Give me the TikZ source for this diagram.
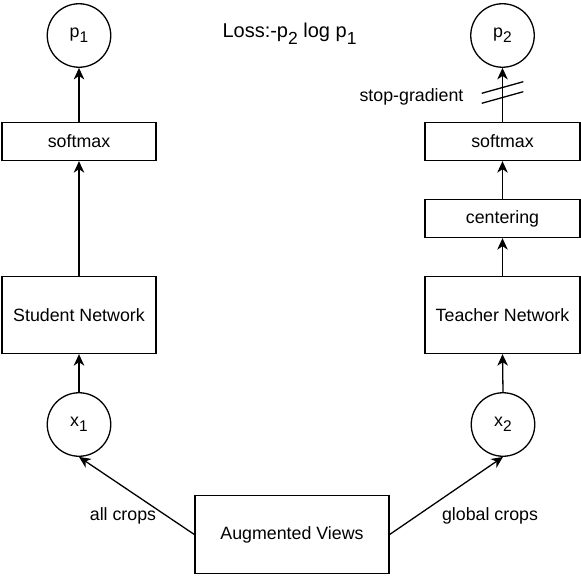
\documentclass[tikz,border=0pt]{standalone}
\usepackage{fontspec}
\setmainfont{Liberation Sans}
\usetikzlibrary{arrows.meta}
\newcommand{\sbs}[1]{\raisebox{-5pt}{\fontsize{15.5}{16}\selectfont #1}}
\newcommand{\tsbs}[1]{\raisebox{-6pt}{\fontsize{17.5}{18}\selectfont #1}}
\tikzset{
  every node/.style={font=\fontsize{17.8}{20}\selectfont},
  box/.style={draw, line width=1.3pt, inner sep=0pt, minimum width=#1, minimum height=38pt},
  bigbox/.style={draw, line width=1.3pt, inner sep=0pt, minimum width=#1, minimum height=77pt},
  var/.style={draw, circle, line width=1.3pt, inner sep=0pt, minimum size=63.5pt},
  conn/.style={line width=1.3pt, -{Stealth[length=11.5pt,width=10.5pt,inset=3.5pt]}},
  plain/.style={line width=1.3pt},
  lbl/.style={inner sep=0pt, anchor=base}
}
\begin{document}
\begin{tikzpicture}[x=1pt, y=-1pt]
\useasboundingbox (0,0) rectangle (581,578);
% nodes
\node[var] (p1) at (79,35.5) {p\sbs{1}};
\node[var] (p2) at (502.5,35.5) {p\sbs{2}};
\node[lbl, font=\fontsize{20}{22}\selectfont] (loss) at (289.5,38) {Loss:-p\tsbs{2} log p\tsbs{1}};
\node[box=154pt] (sm1) at (79,141.5) {softmax};
\node[box=155pt] (sm2) at (502.5,141.5) {softmax};
\node[box=155pt] (cent) at (502.5,218.5) {centering};
\node[bigbox=154pt] (stu) at (79,315) {Student Network};
\node[bigbox=155pt] (tea) at (502.5,315) {Teacher Network};
\node[var] (x1) at (79,424.5) {x\sbs{1}};
\node[var] (x2) at (503,424.5) {x\sbs{2}};
\node[draw, line width=1.3pt, inner sep=0pt, minimum width=194pt, minimum height=77.5pt] (av) at (292,534.5) {Augmented Views};
\node[lbl] (allc) at (123,520) {all crops};
\node[lbl] (glob) at (490,520) {global crops};
\node[lbl] (sg) at (411.5,102) {stop-gradient};
% connectors
\draw[conn] (sm1.north) -- (p1.south);
\draw[conn] (stu.north) -- (sm1.south);
\draw[conn] (x1.north) -- (stu.south);
\draw[conn] (sm2.north) -- (p2.south);
\draw[conn] (cent.north) -- (sm2.south);
\draw[conn] (tea.north) -- (cent.south);
\draw[conn] (x2.north) -- (tea.south);
\draw[conn] (av.west) -- (x1.south);
\draw[conn] (av.east) -- (x2.south);
% stop-gradient marks
\coordinate (sga) at (502.5,87.5);
\coordinate (sgb) at (502.5,97.5);
\draw[plain] ([shift={(-20.8,5.8)}]sga) -- ([shift={(20.8,-5.8)}]sga);
\draw[plain] ([shift={(-20.8,5.8)}]sgb) -- ([shift={(20.8,-5.8)}]sgb);
\end{tikzpicture}
\end{document}
